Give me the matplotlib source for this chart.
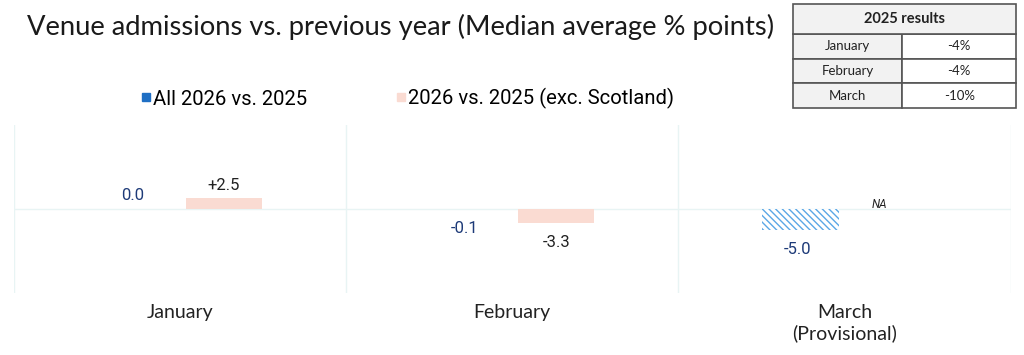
import numpy as np
import matplotlib.pyplot as plt
from matplotlib.lines import Line2D
from matplotlib.patches import Rectangle

months = ['January', 'February', 'March\n(Provisional)']
all_vals = [0.0, -0.1, -5.0]
exc_vals = [2.5, -3.3, None]
all_labels = ['0.0', '-0.1', '-5.0']
exc_labels = ['+2.5', '-3.3', 'NA']

table_months = ['January', 'February', 'March']
table_vals = ['-4%', '-4%', '-10%']

blue = '#1f6fc4'
hatch_blue = '#5ba7e6'
pink = '#fadbd2'
navy = '#1d3a78'
grid = '#e8f4f4'

fig = plt.figure(figsize=(10.24, 3.55), dpi=100)
ax = fig.add_axes([0.0132, 0.175, 0.974, 0.473])

x = np.arange(len(months))
w = 0.229
off = 0.133

for i in range(len(months)):
    v = all_vals[i]
    if i == 2:
        ax.bar(x[i] - off, v, w, color='white', edgecolor=hatch_blue, hatch='\\\\\\\\\\', linewidth=0)
    else:
        ax.bar(x[i] - off, v, w, color=blue, linewidth=0)
    dy = 9.5 if v >= 0 else -14
    ax.annotate(all_labels[i], (x[i] - off - 0.01, v), xytext=(0, dy), textcoords='offset points',
                ha='center', va='center', fontsize=12, color=navy, family='Roboto')

    e = exc_vals[i]
    if e is None:
        ax.annotate('NA', (x[i] + off - 0.03, 0), xytext=(0, 3.5), textcoords='offset points',
                    ha='center', va='center', fontsize=8.5, style='italic', color='#222222', family='Roboto')
    else:
        ax.bar(x[i] + off, e, w, color=pink, linewidth=0)
        dy = 9.5 if e >= 0 else -14
        ax.annotate(exc_labels[i], (x[i] + off, e), xytext=(0, dy), textcoords='offset points',
                    ha='center', va='center', fontsize=12, color='#222222', family='Roboto')

ax.set_xlim(-0.5, 2.5)
ax.set_ylim(-20, 20)
ax.axhline(0, color=grid, lw=1, zorder=0)
for s in [-0.5, 0.5, 1.5, 2.5]:
    ax.axvline(s, color=grid, lw=1, zorder=0)
for sp in ax.spines.values():
    sp.set_visible(False)
ax.set_yticks([])
ax.set_xticks(x)
ax.set_xticklabels(months, fontsize=14, family='Lato', color='#222222')
ax.tick_params(axis='x', length=0, pad=8)

fig.text(0.026, 0.925, 'Venue admissions vs. previous year (Median average % points)',
         fontsize=19.7, family='Lato', color='#1a1a1a', va='center')

handles = [Line2D([], [], ls='none', marker='s', markersize=5.5, color=blue),
           Line2D([], [], ls='none', marker='s', markersize=5.5, color=pink)]
fig.legend(handles, ['All 2026 vs. 2025', '2026 vs. 2025 (exc. Scotland)'],
           loc='center left', bbox_to_anchor=(0.12, 0.722), ncol=2, frameon=False,
           handlelength=0.45, handletextpad=0.12,
           columnspacing=4.4, prop={'family': 'Roboto', 'size': 14.6})

# table of 2025 results
tax = fig.add_axes([793 / 1024, 1 - 108 / 355, 223 / 1024, 104 / 355])
tax.axis('off')
tax.set_xlim(0, 1)
tax.set_ylim(0, 1)
head = 0.29
cells = [[m, v] for m, v in zip(table_months, table_vals)]
tbl = tax.table(cellText=cells, bbox=[0, 0, 1, 1 - head], cellLoc='center')
tbl.auto_set_font_size(False)
for (r, c), cell in tbl.get_celld().items():
    cell.set_edgecolor('#555555')
    cell.set_linewidth(1.2)
    cell.get_text().set_fontsize(9.5)
    cell.get_text().set_family('Lato')
    cell.get_text().set_color('#222222')
    cell.set_width(0.49 if c == 0 else 0.51)
    if c == 0:
        cell.set_facecolor('#f2f2f2')
tax.add_patch(Rectangle((0, 1 - head), 1, head, facecolor='#f2f2f2', edgecolor='#555555',
                        linewidth=1.2, clip_on=False))
tax.text(0.5, 1 - head / 2, '2025 results', ha='center', va='center', fontsize=10.5,
         fontweight='bold', family='Lato', color='#222222')

fig.savefig('out.png', dpi=100)
